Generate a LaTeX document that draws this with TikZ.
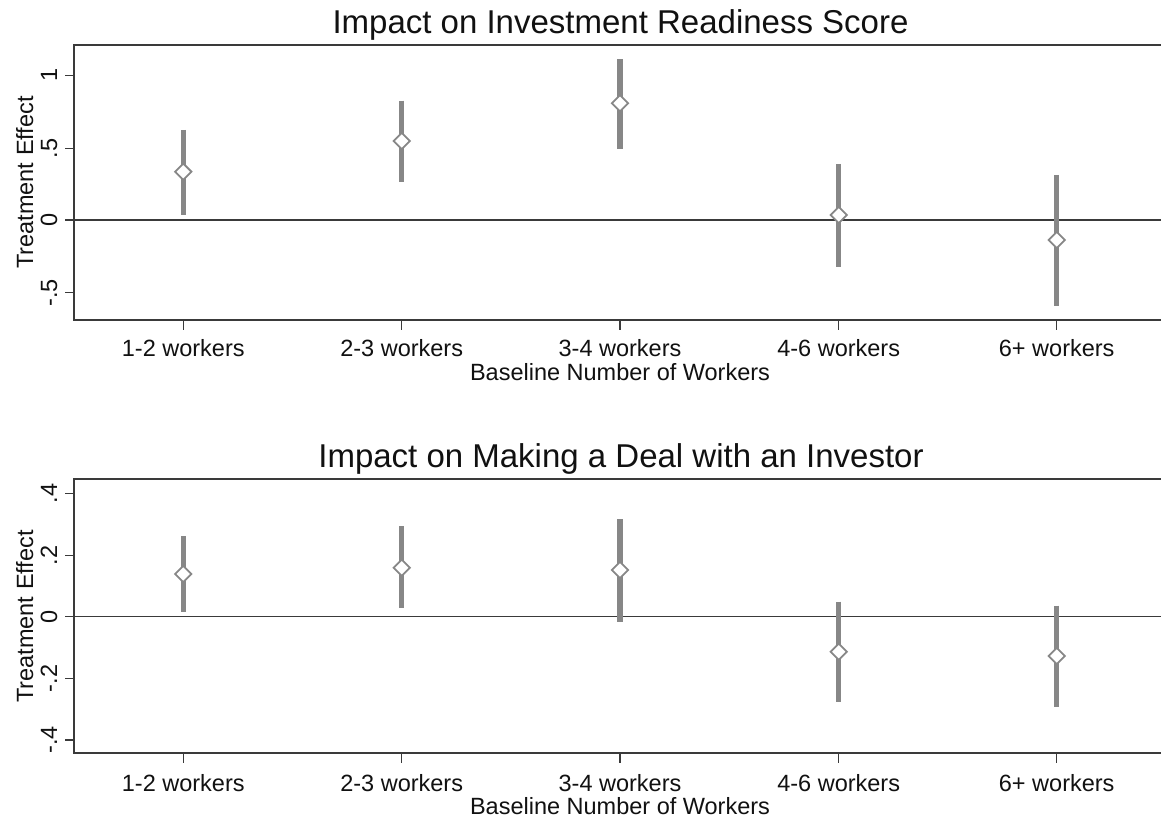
\documentclass[tikz,border=0pt]{standalone}
\usepackage{fontspec}
\setmainfont{Liberation Sans}
\usetikzlibrary{shapes.geometric}
\definecolor{axisc}{HTML}{3A3A3A}
\definecolor{barc}{HTML}{878787}
\definecolor{txtc}{HTML}{111111}
\begin{document}
\begin{tikzpicture}[x=1pt,y=-1pt,
  axis/.style={draw=axisc, line width=1.9pt},
  zeroline/.style={draw=axisc, line width=1.5pt},
  tickmark/.style={draw=axisc, line width=1.4pt},
  cibar/.style={draw=barc, line width=5.5pt},
  est/.style={diamond, draw=barc, fill=white, line width=1.8pt, minimum width=17pt, minimum height=17pt, inner sep=0pt},
  ylab/.style={rotate=90, anchor=base, inner sep=0pt, text=txtc, font=\fontsize{23.5}{26}\selectfont},
  xlab/.style={anchor=base, inner sep=0pt, text=txtc, font=\fontsize{23.5}{26}\selectfont},
  ttl/.style={anchor=base, inner sep=0pt, text=txtc, font=\fontsize{33}{36}\selectfont}]
\useasboundingbox[fill=white] (0,0) rectangle (1161,821);

% ---------- Top panel ----------
\node[ttl] (title1) at (620.5,33.3) {Impact on Investment Readiness Score};
\coordinate (a1tl) at (74,45);
\coordinate (a1tr) at (1161,45);
\coordinate (a1bl) at (74,320);
\coordinate (a1br) at (1161,320);
\coordinate (z1l) at (74,220);
\coordinate (z1r) at (1161,220);
\draw[zeroline] (z1l) -- (z1r);
\draw[axis] (a1tr) -- (a1tl) -- (a1bl) -- (a1br);
\foreach \n/\y/\lab in {y1a/75.3/1, y1b/148.3/.5, y1c/220/0, y1d/292.7/-.5}{
  \coordinate (\n t) at (65,\y);
  \coordinate (\n s) at (74,\y);
  \draw[tickmark] (\n t) -- (\n s);
  \node[ylab] (\n) at (57,\y) {\lab};
}
\node[ylab] (ytitle1) at (33,182.5) {Treatment Effect};
\foreach \n/\x/\lab in {x1a/183.3/1-2 workers, x1b/401.7/2-3 workers, x1c/620/3-4 workers, x1d/838.7/4-6 workers, x1e/1056.7/6+ workers}{
  \coordinate (\n s) at (\x,320);
  \coordinate (\n t) at (\x,330);
  \draw[tickmark] (\n s) -- (\n t);
  \node[xlab] (\n) at (\x,356.5) {\lab};
}
\node[xlab] (xtitle1) at (620,380) {Baseline Number of Workers};
\foreach \i/\x/\hi/\lo/\pt in {1/183.3/130/215/171.7, 2/401.7/100.7/181.7/141, 3/620/59.3/149/103.3, 4/838.7/164/266.7/215, 5/1056.7/175/305.7/240}{
  \coordinate (t\i hi) at (\x,\hi);
  \coordinate (t\i lo) at (\x,\lo);
  \draw[cibar] (t\i hi) -- (t\i lo);
  \node[est] (t\i) at (\x,\pt) {};
}

% ---------- Bottom panel ----------
\node[ttl] (title2) at (621,467.3) {Impact on Making a Deal with an Investor};
\coordinate (a2tl) at (74,479);
\coordinate (a2tr) at (1161,479);
\coordinate (a2bl) at (74,753);
\coordinate (a2br) at (1161,753);
\coordinate (z2l) at (74,616.7);
\coordinate (z2r) at (1161,616.7);
\draw[zeroline] (z2l) -- (z2r);
\draw[axis] (a2tr) -- (a2tl) -- (a2bl) -- (a2br);
\foreach \n/\y/\lab in {y2a/493.3/.4, y2b/555.7/.2, y2c/616.7/0, y2d/678.3/-.2, y2e/740/-.4}{
  \coordinate (\n t) at (65,\y);
  \coordinate (\n s) at (74,\y);
  \draw[tickmark] (\n t) -- (\n s);
  \node[ylab] (\n) at (57,\y) {\lab};
}
\node[ylab] (ytitle2) at (33,616.5) {Treatment Effect};
\foreach \n/\x/\lab in {x2a/183.3/1-2 workers, x2b/401.7/2-3 workers, x2c/620/3-4 workers, x2d/838.7/4-6 workers, x2e/1056.7/6+ workers}{
  \coordinate (\n s) at (\x,753);
  \coordinate (\n t) at (\x,763);
  \draw[tickmark] (\n s) -- (\n t);
  \node[xlab] (\n) at (\x,791.5) {\lab};
}
\node[xlab] (xtitle2) at (620,814) {Baseline Number of Workers};
\foreach \i/\x/\hi/\lo/\pt in {1/183.3/536/612.3/574, 2/401.7/526/608.3/567.7, 3/620/519.3/621.7/570, 4/838.7/601.7/702.3/651.7, 5/1056.7/605.7/706.7/656}{
  \coordinate (b\i hi) at (\x,\hi);
  \coordinate (b\i lo) at (\x,\lo);
  \draw[cibar] (b\i hi) -- (b\i lo);
  \node[est] (b\i) at (\x,\pt) {};
}
\end{tikzpicture}
\end{document}
